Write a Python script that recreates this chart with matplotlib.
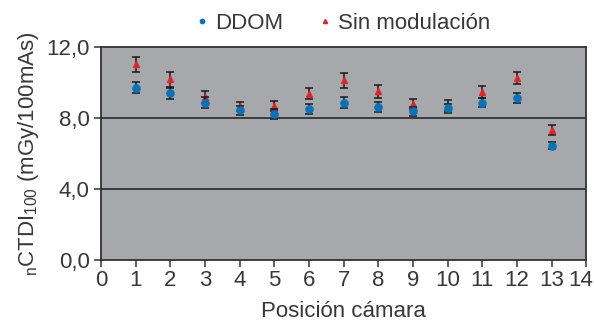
import matplotlib
matplotlib.use("Agg")
import matplotlib.pyplot as plt
from matplotlib.transforms import ScaledTranslation

# Camera positions and dose measurements (nCTDI100, mGy/100mAs)
positions = [1, 2, 3, 4, 5, 6, 7, 8, 9, 10, 11, 12, 13]
ddom = [9.69, 9.39, 8.86, 8.43, 8.25, 8.51, 8.86, 8.61, 8.38, 8.55, 8.87, 9.12, 6.45]
ddom_err = [0.31, 0.30, 0.32, 0.25, 0.28, 0.27, 0.30, 0.27, 0.26, 0.26, 0.27, 0.30, 0.21]
sin_mod = [11.03, 10.19, 9.18, 8.66, 8.70, 9.37, 10.13, 9.50, 8.80, 8.70, 9.46, 10.23, 7.31]
sin_mod_err = [0.42, 0.42, 0.32, 0.25, 0.28, 0.32, 0.42, 0.36, 0.28, 0.33, 0.35, 0.34, 0.27]

x_ticks = list(range(0, 15))
y_ticks = [0, 4, 8, 12]
y_tick_labels = ["0,0", "4,0", "8,0", "12,0"]

txt = "#383838"
fs = 16
plt.rcParams["font.family"] = ["Liberation Sans", "DejaVu Sans"]
plt.rcParams["mathtext.fontset"] = "custom"
plt.rcParams["mathtext.rm"] = "Liberation Sans"

fig = plt.figure(figsize=(5.94, 3.28), dpi=100)
ax = fig.add_axes([0.170, 0.207, 0.817, 0.650])
ax.set_facecolor("#a7a8ab")

for v in (4, 8):
    ax.axhline(v, color="#333333", lw=1.3, zorder=1)

red = ax.errorbar(positions, sin_mod, yerr=sin_mod_err, fmt="^", color="#e0242b",
                  markersize=5, ecolor="#1a1a1a", elinewidth=1.1, capsize=2.8,
                  capthick=1.1, zorder=3, label="Sin modulación")
blue = ax.errorbar(positions, ddom, yerr=ddom_err, fmt="o", color="#0a72b8",
                   markersize=5.2, ecolor="#1a1a1a", elinewidth=1.1, capsize=2.8,
                   capthick=1.1, zorder=4, label="DDOM")

ax.set_xlim(0, 14)
ax.set_ylim(0, 12)
ax.set_xticks(x_ticks)
ax.set_xticklabels([str(t) for t in x_ticks])
ax.set_yticks(y_ticks)
ax.set_yticklabels(y_tick_labels)
ax.tick_params(axis="both", direction="out", length=5, width=1.1, color="#333333",
               labelsize=fs, labelcolor=txt, pad=3)
ax.tick_params(axis="x", pad=2)

# keep the last x label inside the figure edge
last = ax.get_xticklabels()[-1]
last.set_transform(last.get_transform() + ScaledTranslation(-6 / 100, 0, fig.dpi_scale_trans))

for s in ax.spines.values():
    s.set_color("#333333")
    s.set_linewidth(1.3)

ax.set_xlabel("Posición cámara", fontsize=fs, color=txt, labelpad=7)
ax.set_ylabel(r"$_{\mathrm{n}}$CTDI$_{\mathrm{100}}$ (mGy/100mAs)", fontsize=fs,
              color=txt, labelpad=4)

leg = fig.legend([blue[0], red[0]], ["DDOM", "Sin modulación"], loc="center",
                 bbox_to_anchor=(0.578, 0.928), ncol=2, frameon=False, fontsize=fs,
                 handlelength=0.5, handletextpad=0.35, columnspacing=1.6, markerscale=0.6)
for t in leg.get_texts():
    t.set_color(txt)

fig.savefig("out.png", dpi=100)
